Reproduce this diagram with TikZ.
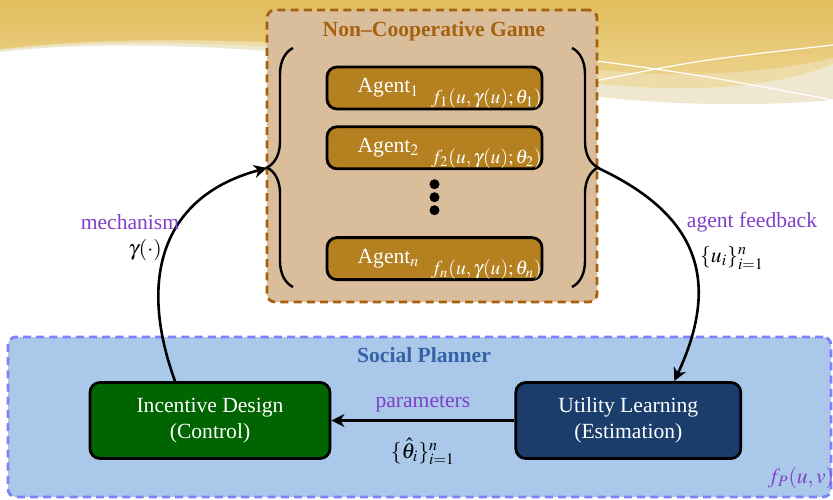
\documentclass[tikz,border=0pt]{standalone}
\usepackage{mathptmx}
\usepackage{fontspec}
\setmainfont{Liberation Serif}
\usetikzlibrary{arrows.meta,positioning,decorations.pathreplacing,calc}

\definecolor{gamefill}{RGB}{218,190,155}
\definecolor{gameedge}{RGB}{165,98,14}
\definecolor{agentfill}{RGB}{181,128,32}
\definecolor{planfill}{RGB}{170,200,234}
\definecolor{planedge}{RGB}{128,128,250}
\definecolor{plantitle}{RGB}{55,98,168}
\definecolor{ctrlfill}{RGB}{0,100,0}
\definecolor{estfill}{RGB}{26,61,107}
\definecolor{lblpurple}{RGB}{128,64,200}
\definecolor{waveA}{RGB}{225,189,92}
\definecolor{waveB}{RGB}{236,210,138}
\definecolor{waveM}{RGB}{237,220,168}
\definecolor{waveC}{RGB}{239,231,208}

\begin{document}
\begin{tikzpicture}[
  x=0.5pt, y=0.5pt,
  font=\fontsize{10.8}{13}\selectfont,
  region/.style={draw, line width=1.4pt, rounded corners=4pt, dash pattern=on 4pt off 2.6pt},
  agent/.style={draw, line width=1.4pt, rounded corners=5pt, fill=agentfill, minimum width=107.5pt, minimum height=21pt},
  agtxt/.style={text=white, inner sep=0pt},
  ftxt/.style={text=white, font=\fontsize{9.8}{12}\selectfont, inner sep=0.6pt},
  dot/.style={circle, fill=black, inner sep=0pt, minimum size=5pt},
  unit/.style={draw, line width=1.4pt, rounded corners=5pt, text=white, align=center, minimum height=38pt},
  brace/.style={decorate, decoration={brace, amplitude=13pt}, line width=1.2pt},
  arr/.style={-{Stealth[length=6.5pt,width=6.5pt,inset=2pt]}, line width=1.3pt},
  lbl/.style={text=lblpurple}
]
\useasboundingbox (0,0) rectangle (833,-499);

% background wave
\fill[waveC] (0,-52) .. controls (150,-34) and (400,-55) .. (600,-97) .. controls (700,-108) and (790,-104) .. (833,-100) -- (833,0) -- (0,0) -- cycle;
\fill[waveM] (0,-50) .. controls (150,-32) and (400,-50) .. (600,-84) .. controls (700,-94) and (780,-86) .. (833,-64) -- (833,0) -- (0,0) -- cycle;
\shade[top color=waveA, bottom color=waveB] (0,-49) .. controls (150,-30) and (400,-44) .. (600,-70) .. controls (700,-80) and (780,-70) .. (833,-58) -- (833,0) -- (0,0) -- cycle;
\draw[white, line width=0.6pt] (590,-60) .. controls (700,-75) .. (833,-100);
\draw[white, line width=0.6pt] (590,-82) .. controls (700,-60) .. (833,-45);

% regions
\node[region, draw=gameedge, fill=gamefill, minimum width=165pt, minimum height=146pt] (game) at (432,-156) {};
\node[text=gameedge, font=\fontsize{10.8}{13}\selectfont\bfseries] (gametitle) at (434,-31) {Non--Cooperative Game};
\node[region, draw=planedge, fill=planfill, minimum width=411.5pt, minimum height=80pt] (planner) at (419.5,-417) {};
\node[text=plantitle, font=\fontsize{10.8}{13}\selectfont\bfseries] (plantitle) at (424,-355) {Social Planner};

% agents
\node[agent] (ag1) at (434.5,-88) {};
\node[agent, below=7.5pt of ag1] (ag2) {};
\node[agent, below=33pt of ag2] (agn) {};
\node[agtxt] (a1) at ([xshift=-23pt]ag1.center) {Agent$_1$};
\node[agtxt] (a2) at ([xshift=-23pt]ag2.center) {Agent$_2$};
\node[agtxt] (an) at ([xshift=-23pt]agn.center) {Agent$_n$};
\node[ftxt, anchor=south east] (f1) at (ag1.south east) {$f_1(u,\gamma(u);\theta_1)$};
\node[ftxt, anchor=south east] (f2) at (ag2.south east) {$f_2(u,\gamma(u);\theta_2)$};
\node[ftxt, anchor=south east] (fn) at (agn.south east) {$f_n(u,\gamma(u);\theta_n)$};
\foreach \k in {1,2,3}
  \node[dot] (dot\k) at ($(ag2.south)+(0,{-1-13*\k})$) {};

% braces
\draw[brace] (293,-287) -- (293,-48);
\draw[brace] (572,-48) -- (572,-287);
\coordinate (lb) at (267,-168);
\coordinate (rb) at (598,-168);

% planner units
\node[unit, fill=ctrlfill, minimum width=120pt] (inc) at (210,-420.5) {Incentive Design\\(Control)};
\node[unit, fill=estfill, minimum width=112.5pt, right=91.5pt of inc] (utl) {Utility Learning\\(Estimation)};

% connectors
\draw[arr] ([xshift=-17.5pt]inc.north) to[out=110, in=195, looseness=1.2] (lb);
\draw[arr] (rb) to[out=-25, in=65, looseness=1.25] ([xshift=23pt]utl.north);
\draw[arr] (utl) -- (inc)
  node[midway, above=0pt, lbl] (param) {parameters}
  node[midway, below=5pt] (thetahat) {$\{\hat{\theta}_i\}_{i=1}^n$};

% labels
\node[lbl] (mech) at (130,-222) {mechanism};
\node (gam) at (145,-250) {$\gamma(\cdot)$};
\node[lbl] (fb) at (752,-222) {agent feedback};
\node (ui) at (732,-258) {$\{u_i\}_{i=1}^n$};
\node[lbl] (fp) at (801,-478) {$f_P(u,v)$};
\end{tikzpicture}
\end{document}
